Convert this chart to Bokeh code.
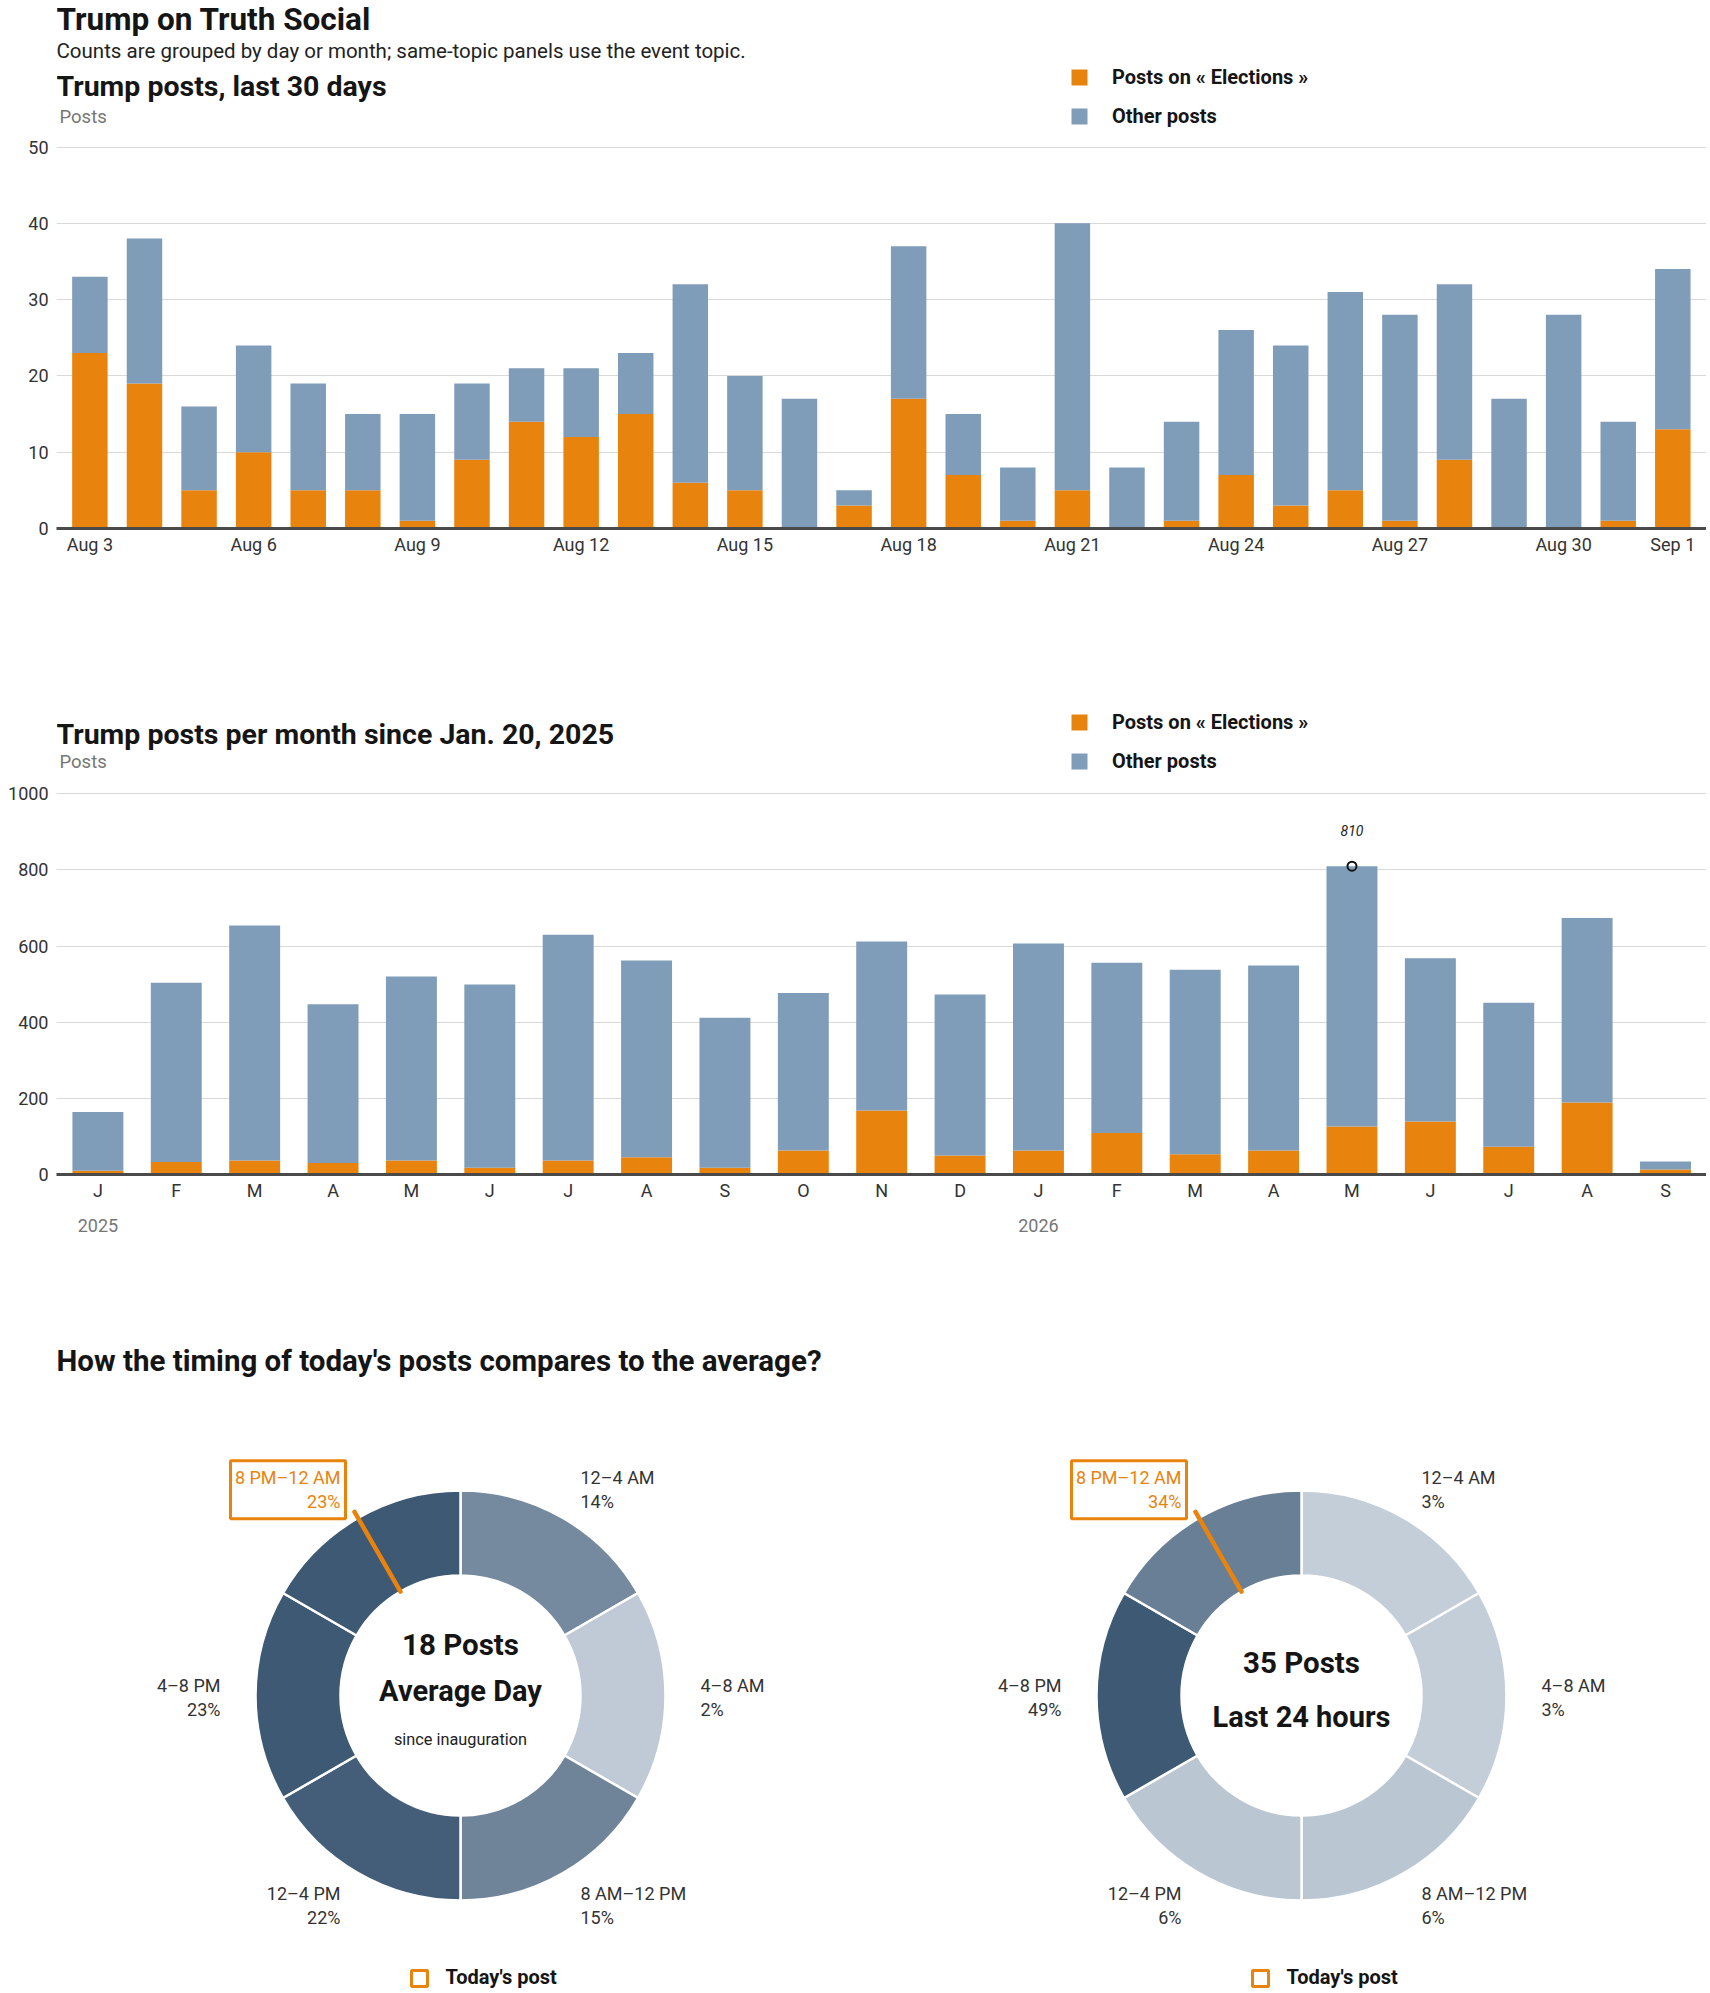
import numpy as np
from bokeh.plotting import figure
from bokeh.models import Range1d, FixedTicker, LinearAxis, Label, ColumnDataSource
from bokeh.layouts import column
from bokeh.embed import file_html
from bokeh.resources import INLINE
from bokeh.core.properties import value
from bokeh.transform import linear_cmap

# ---------------- data ----------------
days = ["Aug 3", "Aug 4", "Aug 5", "Aug 6", "Aug 7", "Aug 8", "Aug 9", "Aug 10",
        "Aug 11", "Aug 12", "Aug 13", "Aug 14", "Aug 15", "Aug 16", "Aug 17",
        "Aug 18", "Aug 19", "Aug 20", "Aug 21", "Aug 22", "Aug 23", "Aug 24",
        "Aug 25", "Aug 26", "Aug 27", "Aug 28", "Aug 29", "Aug 30", "Aug 31", "Sep 1"]
daily_elections = [23, 19, 5, 10, 5, 5, 1, 9, 14, 12, 15, 6, 5, 0, 3,
                   17, 7, 1, 5, 0, 1, 7, 3, 5, 1, 9, 0, 0, 1, 13]
daily_other = [10, 19, 11, 14, 14, 10, 14, 10, 7, 9, 8, 26, 15, 17, 2,
               20, 8, 7, 35, 8, 13, 19, 21, 26, 27, 23, 17, 28, 13, 21]
day_tick_labels = ["Aug 3", "Aug 6", "Aug 9", "Aug 12", "Aug 15", "Aug 18",
                   "Aug 21", "Aug 24", "Aug 27", "Aug 30", "Sep 1"]
daily_y_ticks = [0, 10, 20, 30, 40, 50]

month_labels = ["J", "F", "M", "A", "M", "J", "J", "A", "S", "O", "N", "D",
                "J", "F", "M", "A", "M", "J", "J", "A", "S"]
month_years = ["2025"] * 12 + ["2026"] * 9
monthly_elections = [10, 33, 37, 30, 37, 18, 37, 45, 18, 63, 168, 50,
                     63, 109, 53, 63, 126, 139, 73, 189, 13]
monthly_other = [154, 471, 617, 417, 483, 481, 593, 517, 394, 414, 444, 423,
                 544, 447, 485, 486, 684, 429, 378, 485, 21]
monthly_y_ticks = [0, 200, 400, 600, 800, 1000]

series_labels = ["Posts on « Elections »", "Other posts"]

time_slots = ["12–4 AM", "4–8 AM", "8 AM–12 PM", "12–4 PM", "4–8 PM", "8 PM–12 AM"]
average_share = [14, 2, 15, 22, 23, 23]
today_share = [3, 3, 6, 6, 49, 34]
average_posts = 18
today_posts = 35
today_post_hour = 22

# ---------------- style ----------------
FONT = "Roboto"
ORANGE = "#e8830e"
BLUE = "#7f9db9"
INK = "#151515"
GREY = "#767676"
TICK = "#333333"
GRID = "#d9d9d9"
W = 1706
FRAME_L = 56
FRAME_R = 0
BASE_SHIFT = 0.35  # em correction so that alphabetic baselines land where intended
LIGHT = (203, 213, 223)
DARK = (62, 89, 116)
palette = ["#%02x%02x%02x" % tuple(int(round(a + (b - a) * i / 255)) for a, b in zip(LIGHT, DARK))
           for i in range(256)]


def add_label(p, fx, fy, px, py, text, size, style="normal", color=INK):
    p.add_layout(Label(x=fx(px), y=fy(py - BASE_SHIFT * size), text=text, text_font=FONT,
                       text_font_size=f"{size}px", text_font_style=style, text_color=color,
                       text_align="left", text_baseline="alphabetic"))


def bar_figure(height, border_bottom, fig_top, unit_px, first_center, last_center,
               n, elections, other, y_ticks, legend_row2_center):
    frame_w = W - FRAME_L - FRAME_R
    frame_h = height - border_bottom
    step = (last_center - first_center) / (n - 1)
    frame_left = FRAME_L
    x0 = -(first_center - frame_left) / step
    x1 = x0 + frame_w / step
    frame_bottom = fig_top + frame_h
    p = figure(width=W, height=height, output_backend="svg", toolbar_location=None,
               x_range=Range1d(x0, x1), y_range=Range1d(0, frame_h / unit_px),
               min_border_left=FRAME_L, min_border_right=FRAME_R,
               min_border_top=0, min_border_bottom=border_bottom)
    p.outline_line_color = None
    p.background_fill_color = "white"
    p.xgrid.visible = False
    p.ygrid.grid_line_color = GRID
    p.ygrid.grid_line_width = 1
    p.yaxis.ticker = FixedTicker(ticks=y_ticks)
    p.yaxis.axis_line_color = None
    p.yaxis.major_tick_line_color = None
    p.yaxis.minor_tick_line_color = None
    p.yaxis.major_tick_out = 0
    p.yaxis.major_tick_in = 0
    p.yaxis.major_label_standoff = 8
    p.yaxis.major_label_text_font = FONT
    p.yaxis.major_label_text_font_size = "18px"
    p.yaxis.major_label_text_color = TICK
    p.xaxis.axis_line_color = "#4a4a4a"
    p.xaxis.axis_line_width = 3
    p.xaxis.major_tick_line_color = None
    p.xaxis.minor_tick_line_color = None
    p.xaxis.major_tick_out = 0
    p.xaxis.major_tick_in = 0
    p.xaxis.major_label_standoff = 5
    p.xaxis.major_label_text_font = FONT
    p.xaxis.major_label_text_font_size = "18px"
    p.xaxis.major_label_text_color = TICK

    src = ColumnDataSource(dict(x=list(range(n)), elections=elections, other=other))
    p.vbar_stack(["elections", "other"], x="x", width=0.65, source=src,
                 fill_color=[ORANGE, BLUE], line_color=None, legend_label=series_labels)

    lg = p.legend[0]
    lg.location = (1069 - frame_left, frame_bottom - (legend_row2_center + 10))
    lg.orientation = "vertical"
    lg.glyph_width = 20
    lg.glyph_height = 20
    lg.label_height = 20
    lg.label_standoff = 23
    lg.spacing = 15
    lg.padding = 0
    lg.margin = 0
    lg.border_line_color = None
    lg.background_fill_alpha = 0
    lg.label_text_font = FONT
    lg.label_text_font_style = "bold"
    lg.label_text_font_size = "20px"
    lg.label_text_color = INK

    fx = lambda px: x0 + (px - frame_left) / step
    fy = lambda py: (frame_bottom - py) / unit_px
    return p, fx, fy


# ---------------- chart 1: last 30 days ----------------
H1, H2, H3 = 608, 642, 740
p1, fx1, fy1 = bar_figure(H1, 80, 0, 381.5 / 50, 89.4, 1672.3, len(days),
                          daily_elections, daily_other, daily_y_ticks, 118)
tick_idx = [days.index(d) for d in day_tick_labels]
p1.xaxis.ticker = FixedTicker(ticks=tick_idx)
p1.xaxis.major_label_overrides = {i: days[i] for i in tick_idx}

add_label(p1, fx1, fy1, 56, 30, "Trump on Truth Social", 31.5, "bold")
add_label(p1, fx1, fy1, 56, 58,
          "Counts are grouped by day or month; same-topic panels use the event topic.",
          20.5, color="#222222")
add_label(p1, fx1, fy1, 56, 96, "Trump posts, last 30 days", 28.5, "bold")
add_label(p1, fx1, fy1, 59, 123, "Posts", 18.5, color=GREY)

# ---------------- chart 2: per month ----------------
p2, fx2, fy2 = bar_figure(H2, 76, H1, 380.7 / 1000, 97.4, 1665.0, len(month_labels),
                          monthly_elections, monthly_other, monthly_y_ticks, 763)
p2.xaxis.ticker = FixedTicker(ticks=list(range(len(month_labels))))
p2.xaxis.major_label_overrides = {i: m for i, m in enumerate(month_labels)}

year_idx = [i for i, y in enumerate(month_years) if i == 0 or month_years[i - 1] != y]
year_axis = LinearAxis(ticker=FixedTicker(ticks=year_idx),
                       major_label_overrides={i: month_years[i] for i in year_idx},
                       axis_line_color=None, major_tick_line_color=None,
                       minor_tick_line_color=None, major_tick_out=0, major_tick_in=0,
                       major_label_standoff=15, major_label_text_font=FONT,
                       major_label_text_font_size="18px", major_label_text_color=GREY)
p2.add_layout(year_axis, "below")

monthly_total = [e + o for e, o in zip(monthly_elections, monthly_other)]
imax = int(np.argmax(monthly_total))
p2.scatter(x=[imax], y=[monthly_total[imax]], marker="circle", size=9,
           line_color="#111111", line_width=2, fill_color=None)
p2.text(x=[imax], y=[monthly_total[imax]], text=[str(monthly_total[imax])], y_offset=-36,
        text_align="center", text_baseline="alphabetic", text_font=value(FONT),
        text_font_style="italic", text_font_size="14px", text_color="#222222")

add_label(p2, fx2, fy2, 56, 744, "Trump posts per month since Jan. 20, 2025", 28.5, "bold")
add_label(p2, fx2, fy2, 59, 768, "Posts", 18.5, color=GREY)

# ---------------- donuts ----------------
fig3_top = H1 + H2
fig3_bottom = fig3_top + H3
p3 = figure(width=W, height=H3, output_backend="svg", toolbar_location=None,
            x_range=Range1d(FRAME_L, W - FRAME_R), y_range=Range1d(0, H3),
            x_axis_type=None, y_axis_type=None,
            min_border_left=FRAME_L, min_border_right=FRAME_R,
            min_border_top=0, min_border_bottom=0)
p3.outline_line_color = None
gx = lambda px: px
gy = lambda py: fig3_bottom - py

add_label(p3, gx, gy, 56, 1371, "How the timing of today's posts compares to the average?", 29.5, "bold")

R_IN, R_OUT, R_LAB = 120, 205, 240


def draw_donut(cx_page, shares, center_lines):
    cx, cy = gx(cx_page), gy(1695)
    n = len(time_slots)
    step = 2 * np.pi / n
    starts = [np.pi / 2 - i * step for i in range(n)]
    ends = [np.pi / 2 - (i + 1) * step for i in range(n)]
    src = ColumnDataSource(dict(slot=time_slots, share=shares, start=starts, end=ends))
    p3.annular_wedge(x=cx, y=cy, inner_radius=R_IN, outer_radius=R_OUT,
                     start_angle="start", end_angle="end", direction="clock", source=src,
                     fill_color=linear_cmap("share", palette, 0, max(shares)),
                     line_color="white", line_width=2.5)

    mids = [np.pi / 2 - (i + 0.5) * step for i in range(n)]
    hl = int(today_post_hour // (24 / n))
    pcts = [f"{v}%" for v in shares]

    size = 18
    sh = BASE_SHIFT * size
    common = dict(text_font=value(FONT), text_font_size=f"{size}px", text_baseline="alphabetic")
    for i in range(n):
        lx = cx + R_LAB * np.cos(mids[i])
        ly = cy + R_LAB * np.sin(mids[i])
        align = "left" if np.cos(mids[i]) > 0 else "right"
        color = ORANGE if i == hl else TICK
        p3.text(x=[lx, lx], y=[ly + 4 + sh, ly - 20 + sh], text=[time_slots[i], pcts[i]],
                text_align=align, text_color=color, **common)
        if i == hl:
            p3.quad(left=lx - 110, right=lx + 5, top=ly + 27, bottom=ly - 31,
                    fill_color=None, line_color=ORANGE, line_width=3)

    # marker for today's post time
    ang = np.pi / 2 - today_post_hour / 24 * 2 * np.pi
    p3.segment(x0=[cx + R_IN * np.cos(ang)], y0=[cy + R_IN * np.sin(ang)],
               x1=[cx + (R_OUT + 7) * np.cos(ang)], y1=[cy + (R_OUT + 7) * np.sin(ang)],
               line_color=ORANGE, line_width=4.5, line_cap="round")

    for txt, dy, fsize, style, col in center_lines:
        p3.text(x=[cx], y=[cy - dy + BASE_SHIFT * fsize], text=[txt], text_align="center",
                text_baseline="alphabetic", text_font=value(FONT), text_font_size=f"{fsize}px",
                text_font_style=style, text_color=col)

    # key for today's post marker
    p3.scatter(x=[cx - 41], y=[gy(1978)], marker="square", size=16, fill_color=None,
               line_color=ORANGE, line_width=3)
    p3.text(x=[cx - 15], y=[gy(1976)], text=["Today's post"], text_align="left",
            text_baseline="middle", text_font=value(FONT), text_font_size="20px",
            text_font_style="bold", text_color=INK)


draw_donut(460, average_share, [
    (f"{average_posts} Posts", -40, 29.5, "bold", INK),
    ("Average Day", 6, 29, "bold", INK),
    ("since inauguration", 50, 16.3, "normal", "#222222"),
])
draw_donut(1301, today_share, [
    (f"{today_posts} Posts", -22, 29.5, "bold", INK),
    ("Last 24 hours", 32, 29, "bold", INK),
])

layout = column(p1, p2, p3, spacing=0)
open("out.html", "w").write(file_html(layout, INLINE))
